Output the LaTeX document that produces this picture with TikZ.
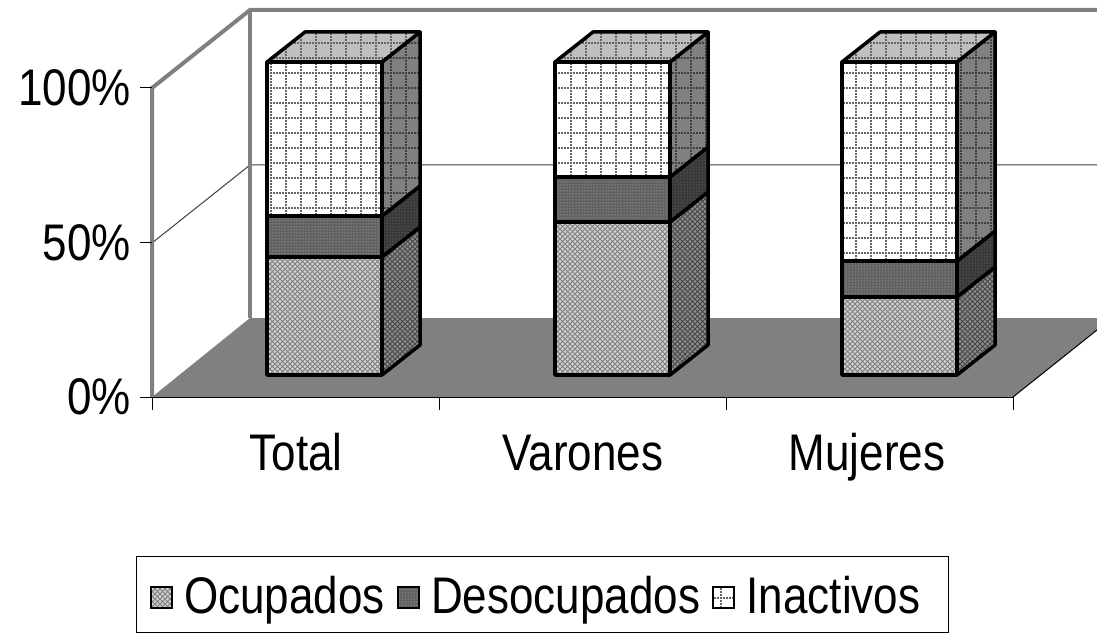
\documentclass[tikz,border=0pt]{standalone}
\usepackage{graphicx}
\usepackage{fontspec}
\setmainfont{Liberation Sans}
\usetikzlibrary{patterns,positioning}

\newcommand{\rotulo}[1]{\scalebox{1}[1.17]{#1}}

% TRAMAS
\pgfdeclarepatternformonly{rombos}{\pgfqpoint{-1pt}{-1pt}}{\pgfqpoint{6pt}{6pt}}{\pgfqpoint{5pt}{5pt}}{%
	\pgfsetlinewidth{0.9pt}%
	\pgfpathmoveto{\pgfqpoint{0pt}{0pt}}\pgfpathlineto{\pgfqpoint{5.1pt}{5.1pt}}%
	\pgfpathmoveto{\pgfqpoint{0pt}{5pt}}\pgfpathlineto{\pgfqpoint{5.1pt}{-0.1pt}}%
	\pgfusepath{stroke}}
\pgfdeclarepatternformonly{rejilla}{\pgfqpoint{-1pt}{-1pt}}{\pgfqpoint{16pt}{16pt}}{\pgfqpoint{15pt}{15pt}}{%
	\foreach \i in {0,3,...,12}{%
		\pgfpathrectangle{\pgfpoint{\i pt}{0pt}}{\pgfqpoint{1.7pt}{1.7pt}}\pgfusepath{fill}%
		\pgfpathrectangle{\pgfpoint{0pt}{\i pt}}{\pgfqpoint{1.7pt}{1.7pt}}\pgfusepath{fill}%
	}}

\begin{document}
\begin{tikzpicture}[x=1pt, y=-1pt]

	\tikzstyle{pared}=[draw=black!50, line width=4pt]
	\tikzstyle{eje}=[draw=black, line width=1pt]
	\tikzstyle{borde}=[draw=black, line width=3.5pt, line join=round]
	\tikzstyle{ocup}=[preaction={fill=black!18}, pattern=rombos, pattern color=black!50]
	\tikzstyle{ocup lado}=[preaction={fill=black!45}, pattern=rombos, pattern color=black!72]
	\tikzstyle{desoc}=[preaction={fill=black!62}, pattern=dots, pattern color=white!80!black]
	\tikzstyle{desoc lado}=[preaction={fill=black!78}, pattern=dots, pattern color=black!45]
	\tikzstyle{inact}=[preaction={fill=white}, pattern=rejilla, pattern color=black!60]
	\tikzstyle{inact lado}=[preaction={fill=black!50}, pattern=rejilla, pattern color=black!75]
	\tikzstyle{inact tapa}=[preaction={fill=black!25}, pattern=rejilla, pattern color=black!60]
	\tikzstyle{etiqueta}=[font=\fontsize{44}{50}\selectfont, inner sep=0pt]
	\tikzstyle{marca}=[draw=black, line width=2pt, minimum size=21pt, inner sep=0pt]

	\fill[white] (0,0) rectangle (1097,644);
	\useasboundingbox (0,0) rectangle (1097,644);

	\coordinate (o) at (152,397); % ORIGEN
	\coordinate (o_f) at (250,318); % ORIGEN FONDO

	% PISO
	\fill[black!50] (o) -- (o_f) -- (1097,318) -- (1097,330) -- (1013,397) -- cycle;
	\draw[black, line width=1pt] (1013,397) -- (1097,330);

	% LINEA DE 50%
	\draw[black!75, line width=1pt] (152,243) -- (250,165) -- (1097,165);

	% PAREDES
	\draw[pared] (o) -- (152,88) -- (250,10) -- (1097,10);
	\draw[pared] (250,10) -- (o_f);

	% EJES
	\draw[eje] (o) -- (1013,397);
	\foreach \x in {152,439,726,1013}
		\draw[eje] (\x,397) -- (\x,410);
	\foreach \y in {88,243,397}
		\draw[eje] (140,\y) -- (152,\y);

	\node[etiqueta, anchor=east] (e_100) at (131,88) {\rotulo{100\%}};
	\node[etiqueta, anchor=east] (e_50) at (131,243) {\rotulo{50\%}};
	\node[etiqueta, anchor=east] (e_0) at (131,397) {\rotulo{0\%}};

	\node[etiqueta, anchor=base] (c_total) at (296,470) {\rotulo{Total}};
	\node[etiqueta, anchor=base] (c_varones) at (583,470) {\rotulo{Varones}};
	\node[etiqueta, anchor=base] (c_mujeres) at (867,470) {\rotulo{Mujeres}};

	% BARRAS: x / tope ocupados / tope desocupados
	\foreach \x/\a/\b in {267/257/216, 555/222/177, 842/297/261}{
		\path[borde, ocup] (\x,375) rectangle ({\x+115},\a);
		\path[borde, ocup lado] ({\x+115},375) -- ({\x+153},345) -- ({\x+153},{\a-30}) -- ({\x+115},\a) -- cycle;
		\path[borde, desoc] (\x,\a) rectangle ({\x+115},\b);
		\path[borde, desoc lado] ({\x+115},\a) -- ({\x+153},{\a-30}) -- ({\x+153},{\b-30}) -- ({\x+115},\b) -- cycle;
		\path[borde, inact] (\x,\b) rectangle ({\x+115},62);
		\path[borde, inact lado] ({\x+115},\b) -- ({\x+153},{\b-30}) -- ({\x+153},32) -- ({\x+115},62) -- cycle;
		\path[borde, inact tapa] (\x,62) -- ({\x+38},32) -- ({\x+153},32) -- ({\x+115},62) -- cycle;
	}

	% LEYENDA
	\draw[eje] (136,556) rectangle (948,632);
	\node[etiqueta, anchor=base west] (t_ocup) at (184,613) {\rotulo{Ocupados}};
	\node[etiqueta, base right=46pt of t_ocup] (t_desoc) {\rotulo{Desocupados}};
	\node[etiqueta, base right=46pt of t_desoc] (t_inact) {\rotulo{Inactivos}};
	\node[marca, ocup, anchor=east] (m_ocup) at ([xshift=-11pt, yshift=16pt]t_ocup.base west) {};
	\node[marca, desoc, anchor=east] (m_desoc) at ([xshift=-11pt, yshift=16pt]t_desoc.base west) {};
	\node[marca, inact, anchor=east] (m_inact) at ([xshift=-11pt, yshift=16pt]t_inact.base west) {};
\end{tikzpicture}
\end{document}
